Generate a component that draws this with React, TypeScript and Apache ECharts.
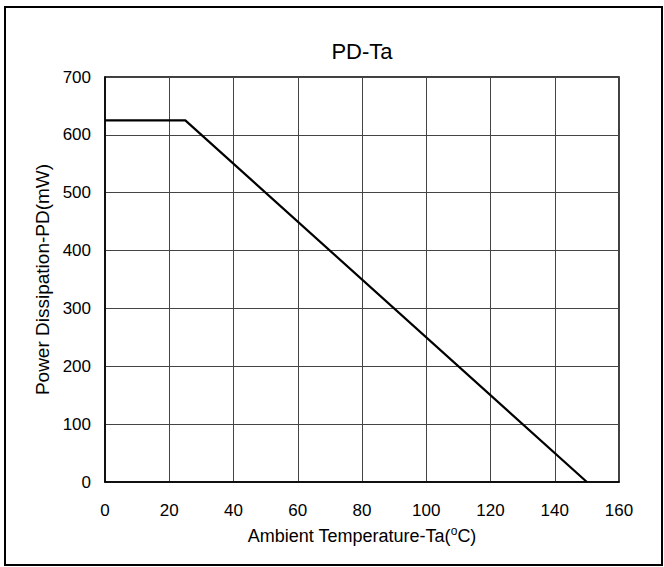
import React, { useEffect, useRef } from "react";
import * as echarts from "echarts";

const temps = [0, 25, 150];
const power = [625, 625, 0];
const xTicks = [0, 20, 40, 60, 80, 100, 120, 140, 160];
const yTicks = [0, 100, 200, 300, 400, 500, 600, 700];

export default function App() {
  const ref = useRef<HTMLDivElement>(null);
  useEffect(() => {
    document.body.style.margin = "0";
    const chart = echarts.init(ref.current!, null, { renderer: "svg" });
    const font = "Liberation Sans, Arial, sans-serif";
    chart.setOption({
      animation: false,
      backgroundColor: "#fff",
      title: {
        text: "PD-Ta",
        left: 357,
        top: 35,
        textAlign: "center",
        textStyle: { fontFamily: font, fontSize: 22, fontWeight: "normal", color: "#000" },
      },
      graphic: [
        {
          type: "rect",
          shape: { x: 5, y: 7, width: 657, height: 558 },
          style: { fill: "none", stroke: "#000", lineWidth: 2 },
          silent: true,
        },
      ],
      grid: {
        left: 105,
        top: 77,
        right: 45,
        bottom: 85,
        show: true,
        borderColor: "#000",
        borderWidth: 1.5,
      },
      xAxis: {
        type: "value",
        min: xTicks[0],
        max: xTicks[xTicks.length - 1],
        interval: 20,
        name: "Ambient Temperature-Ta({sup|o}C)",
        nameLocation: "middle",
        nameGap: 43,
        nameTextStyle: {
          fontFamily: font,
          fontSize: 18,
          color: "#000",
          rich: {
            sup: { fontFamily: font, fontSize: 12, color: "#000", verticalAlign: "top", padding: [0, 0, 9, 0] },
          },
        },
        axisLine: { show: true, lineStyle: { color: "#000", width: 1.5 } },
        axisTick: { show: false },
        axisLabel: { fontFamily: font, fontSize: 17, color: "#000", margin: 20 },
        splitLine: { show: true, lineStyle: { color: "#444", width: 1 } },
      },
      yAxis: {
        type: "value",
        min: yTicks[0],
        max: yTicks[yTicks.length - 1],
        interval: 100,
        name: "Power Dissipation-PD(mW)",
        nameLocation: "middle",
        nameGap: 49,
        nameTextStyle: { fontFamily: font, fontSize: 19, color: "#000" },
        axisLine: { show: true, lineStyle: { color: "#000", width: 1.5 } },
        axisTick: { show: false },
        axisLabel: { fontFamily: font, fontSize: 17, color: "#000", margin: 14 },
        splitLine: { show: true, lineStyle: { color: "#444", width: 1 } },
      },
      series: [
        {
          type: "line",
          data: temps.map((t, i) => [t, power[i]]),
          symbol: "none",
          lineStyle: { color: "#000", width: 2.2 },
        },
      ],
    });
    return () => chart.dispose();
  }, []);
  return <div ref={ref} style={{ width: 664, height: 567 }} />;
}
